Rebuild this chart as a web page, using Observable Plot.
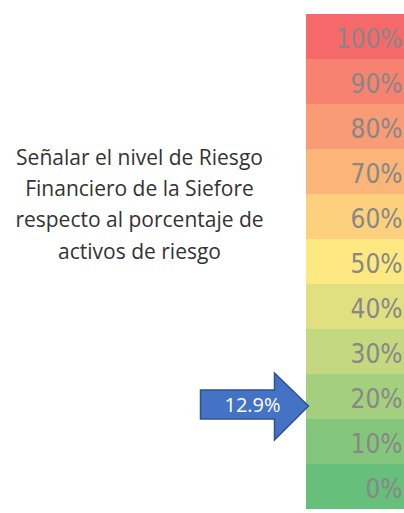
<!DOCTYPE html>
<html>
<head>
<meta charset="utf-8">
<script src="https://cdn.jsdelivr.net/npm/d3@7"></script>
<script src="https://cdn.jsdelivr.net/npm/@observablehq/plot@0.6"></script>
<style>
  html, body { margin: 0; padding: 0; background: #fff; }
  #chart svg { display: block; }
</style>
</head>
<body>
<div id="chart"></div>
<script>
// Risk levels, top to bottom
const levels = ["100%", "90%", "80%", "70%", "60%", "50%", "40%", "30%", "20%", "10%", "0%"];
const levelColors = ["#F6696B", "#F7826F", "#F99B74", "#FBB578", "#FDD07D", "#FEE882", "#E0E081", "#C3D87F", "#A3CF7E", "#84C77C", "#66BF7B"];
// Marker
const markerLevel = "20%";
const markerLabel = "12.9%";
const titleLines = ["Señalar el nivel de Riesgo", "Financiero de la Siefore", "respecto al porcentaje de", "activos de riesgo"];

const bands = levels.map((label, i) => ({label, color: levelColors[i]}));

// Block-arrow symbol, tip at the symbol's origin
const blockArrow = {
  draw(ctx) {
    ctx.moveTo(0, 0);
    ctx.lineTo(-34, -33);
    ctx.lineTo(-34, -16);
    ctx.lineTo(-108, -16);
    ctx.lineTo(-108, 13);
    ctx.lineTo(-34, 13);
    ctx.lineTo(-34, 34);
    ctx.closePath();
  }
};

const chart = Plot.plot({
  width: 404,
  height: 513,
  marginLeft: 306,
  marginRight: 0,
  marginTop: 10,
  marginBottom: 0,
  x: {domain: [0, 1], axis: null},
  y: {domain: levels, axis: null, padding: 0},
  color: {type: "identity"},
  marks: [
    Plot.barX(bands, {y: "label", x: () => 1, fill: "color", inset: 0}),
    Plot.text(bands, {
      y: "label", x: () => 1, text: "label", textAnchor: "end", dx: -2, dy: 3,
      fill: "#878787", fontSize: 26,
      fontFamily: "'DejaVu Sans Condensed', 'Liberation Sans Narrow', sans-serif",
      fontStretch: "condensed"
    }),
    Plot.dot([markerLevel], {
      x: () => 0, y: d => d, symbol: blockArrow, r: 1, dx: 2, dy: 9,
      fill: "#4472C4", stroke: "#2F528F", strokeWidth: 1.5
    }),
    Plot.text([markerLabel], {
      x: () => 0, y: () => markerLevel, text: d => d, dx: -54, dy: 9,
      fill: "#ffffff", fontSize: 20, fontFamily: "'Open Sans', sans-serif"
    }),
    Plot.text([titleLines.join("\n")], {
      frameAnchor: "middle", text: d => d, dx: -216, dy: -60, lineHeight: 1.48,
      fill: "#333333", fontSize: 21, fontFamily: "'Open Sans', sans-serif"
    })
  ]
});
document.getElementById("chart").append(chart);
</script>
</body>
</html>
